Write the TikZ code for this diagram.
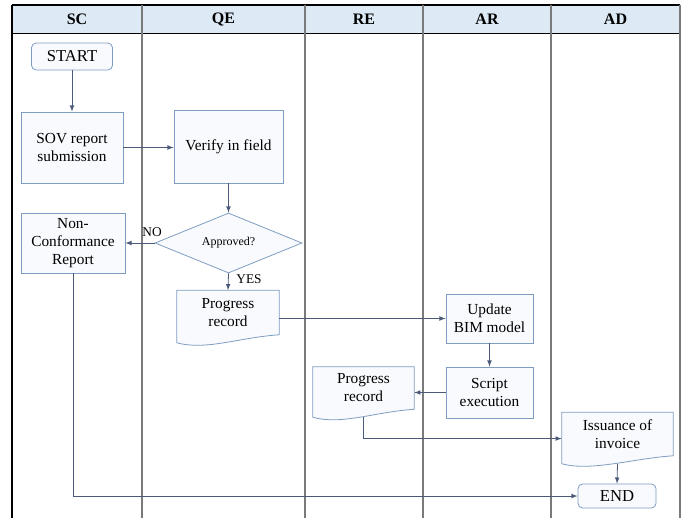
\documentclass[tikz,border=0pt]{standalone}
\usepackage{fontspec}
\setmainfont{Liberation Serif}
\usetikzlibrary{shapes.geometric,backgrounds}

\definecolor{hdrfill}{HTML}{DDEAF6}
\definecolor{boxedge}{HTML}{7F9DC1}
\definecolor{boxfill}{HTML}{F8FAFD}
\definecolor{flowline}{HTML}{4A5A78}
\definecolor{lanegray}{HTML}{7A7A7A}

\tikzset{
  txt/.style={font=\fontsize{11.5}{13.5}\selectfont, align=center},
  procbox/.style={txt, draw=boxedge, fill=boxfill, line width=0.6pt, inner sep=2pt},
  termbox/.style={procbox, rounded corners=3.5pt, font=\fontsize{12.5}{14}\selectfont},
  docbox/.style={txt, inner sep=2pt},
  decision/.style={diamond, draw=boxedge, fill=boxfill, line width=0.6pt, aspect=2.45,
    inner sep=0pt, font=\fontsize{9}{11}\selectfont},
  flow/.style={draw=flowline, line width=0.6pt, >=latex, ->},
  lanelabel/.style={font=\bfseries\fontsize{12}{14}\selectfont},
  tag/.style={font=\fontsize{10}{12}\selectfont, inner sep=1pt}
}

% outline of a document symbol round a node
\newcommand{\docborder}[1]{%
  \draw[draw=boxedge, fill=boxfill, line width=0.6pt] (#1.south east) -- (#1.north east)
    -- (#1.north west) -- ([yshift=-6pt]#1.south west)
    .. controls +(22pt,-6pt) and +(-30pt,-2pt) .. (#1.south east) -- cycle;}

\begin{document}
\begin{tikzpicture}[x=0.75pt, y=-0.75pt]
\useasboundingbox (0,0) rectangle (684,518);

% swimlanes
\fill[hdrfill] (12,5) rectangle (680,33);
\draw[line width=0.8pt] (12,5) -- (680,5);
\draw[line width=0.6pt] (12,33) -- (680,33);
\draw[line width=1pt] (12,5) -- (12,518);
\draw[lanegray, line width=0.8pt] (142,5) -- (142,518);
\draw[lanegray, line width=0.8pt] (305,5) -- (305,518);
\draw[lanegray, line width=0.8pt] (423,5) -- (423,518);
\draw[lanegray, line width=0.8pt] (551,5) -- (551,518);
\draw[lanegray, line width=0.8pt] (680,5) -- (680,518);

\node[lanelabel] (hSC) at (77,19) {SC};
\node[lanelabel] (hQE) at (223.5,19) {QE};
\node[lanelabel] (hRE) at (364,19) {RE};
\node[lanelabel] (hAR) at (487,19) {AR};
\node[lanelabel] (hAD) at (615.5,19) {AD};

% steps
\node[termbox, minimum width=60.75pt, minimum height=20.25pt] (start) at (72,56.5) {START};
\node[procbox, minimum width=76.5pt, minimum height=53.25pt] (sov) at (72,147.5) {SOV report\\submission};
\node[procbox, minimum width=81.75pt, minimum height=54.75pt] (verify) at (228.5,146.5) {Verify in field};
\node[decision, minimum width=110.25pt, minimum height=45pt] (approved) at (228.5,243) {Approved?};
\node[procbox, minimum width=78pt, minimum height=45pt] (ncr) at (73,243) {Non-\\Conformance\\Report};
\node[docbox, minimum width=76.5pt, minimum height=33pt] (rec1) at (228,312.5) {Progress\\record};
\node[procbox, minimum width=65.25pt, minimum height=36.75pt] (bim) at (489.5,318.5) {Update\\BIM model};
\node[procbox, minimum width=65.25pt, minimum height=38.25pt] (script) at (489.5,392.5) {Script\\execution};
\node[docbox, minimum width=75.75pt, minimum height=31.5pt] (rec2) at (363.5,388) {Progress\\record};
\node[docbox, minimum width=83.25pt, minimum height=32.25pt] (invoice) at (617.5,434) {Issuance of\\invoice};
\node[termbox, minimum width=58.5pt, minimum height=18pt] (end) at (617,496) {END};

\begin{scope}[on background layer]
\docborder{rec1}
\docborder{rec2}
\docborder{invoice}
\end{scope}

% connectors
\draw[flow] (start) -- (sov);
\draw[flow] (sov.east) -- (sov.east -| verify.west);
\draw[flow] (verify) -- (approved);
\draw[flow] (approved.west) -- (ncr.east);
\node[tag] (no) at (152,232) {NO};
\draw[flow] (approved.south) -- (rec1.north);
\node[tag] (yes) at (249,279) {YES};
\draw[flow] (rec1.east |- bim.west) -- (bim.west);
\draw[flow] (bim) -- (script);
\draw[flow] (script.west) -- (script.west -| rec2.east);
\draw[flow] ([yshift=-6pt]rec2.south) |- ([yshift=-3.4pt]invoice.west);
\draw[flow] ([yshift=-6pt]invoice.south) -- (end.north);
\draw[flow] (ncr.south) |- (end.west);

\end{tikzpicture}
\end{document}
